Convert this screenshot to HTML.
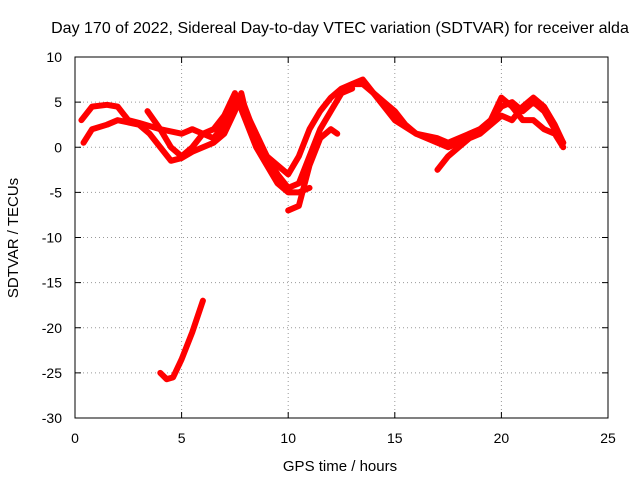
<!DOCTYPE html>
<html><head><meta charset="utf-8"><style>
body{margin:0;background:#fff;}
svg{display:block;font-family:"Liberation Sans",sans-serif;}
</style></head><body>
<svg id="chart" width="640" height="480">
<text x="340" y="33" font-size="16" text-anchor="middle">Day 170 of 2022, Sidereal Day-to-day VTEC variation (SDTVAR) for receiver alda</text>
<text x="340" y="471" font-size="15" text-anchor="middle">GPS time / hours</text>
<text transform="translate(18,238) rotate(-90)" font-size="15" text-anchor="middle">SDTVAR / TECUs</text>
<g id="grid"></g><g id="ticks"></g><g id="series"></g>
<rect x="75" y="57" width="533" height="361" fill="none" stroke="#000"/>
</svg>
<script>
const xTicks=[0,5,10,15,20,25];
const yTicks=[10,5,0,-5,-10,-15,-20,-25,-30];
const track1=[[0.3,3],[0.8,4.5],[1.5,4.7],[2,4.5],[2.5,3],[3,2.7],[4,2],[5,1.5],[5.5,2],[6,1.5],[6.5,1],[7,2.5],[7.5,5],[7.8,5.5],[8.2,3],[9,-1],[9.5,-2],[10,-3],[10.5,-1],[11,2],[11.5,4],[12,5.5],[12.5,6.5],[13,7],[13.5,7.5],[14,6],[14.5,4.5],[15,3],[16,1.5],[17,1],[17.5,0.5],[18,1],[18.5,1.5],[19,2],[19.5,3],[20,4.5],[20.5,5],[21,4],[21.5,5],[22,4],[22.5,2],[22.9,0.5]];
const track2=[[0.4,0.5],[0.8,2],[1.5,2.5],[2,3],[3,2.5],[3.5,1.5],[4,0],[4.5,-1.5],[5,-1.2],[5.5,-0.5],[6,0],[6.5,0.5],[7,1.5],[7.5,4],[7.8,6],[8,4],[8.5,1],[9,-1],[9.5,-3],[10,-4.5],[10.5,-4],[11,-1],[11.5,2],[12,4],[12.5,6],[13,6.5]];
const track3=[[3.4,4],[4,2],[4.5,0],[5,-1],[5.5,0],[6,1.5],[6.5,2],[7,3.5],[7.5,6],[8,3],[8.5,0],[9,-2],[9.5,-4],[10,-5],[10.5,-5],[11,-4.5]];
const track4=[[10,-7],[10.5,-6.5],[11,-2],[11.5,1],[12,2],[12.3,1.5]];
const track5=[[17,-2.5],[17.5,-1],[18,0],[18.5,1],[19,1.5],[19.5,2.5],[20,3.5],[20.5,3],[21,4.5],[21.5,5.5],[22,4.5],[22.5,2.5],[22.9,0.5]];
const track6=[[13,7],[13.5,7],[14,6],[14.5,5],[15,4],[15.5,2.5],[16,1.5],[16.5,1],[17,0.5],[17.5,0],[18,0.5],[18.5,1.5],[19,2],[19.5,3],[20,5.5],[20.5,4.5],[21,3],[21.5,3],[22,2],[22.5,1.5],[22.9,0]];
const track7=[[4,-25],[4.3,-25.7],[4.6,-25.5],[5,-23.5],[5.5,-20.5],[6,-17]];
const tracks=[track1,track2,track3,track4,track5,track6,track7];
const X=v=>75+v*(533/25), Y=v=>57+(10-v)*(361/40);
const NS="http://www.w3.org/2000/svg";
const grid=document.getElementById('grid'),ticks=document.getElementById('ticks'),ser=document.getElementById('series');
function mk(tag,attrs,parent){const e=document.createElementNS(NS,tag);for(const k in attrs)e.setAttribute(k,attrs[k]);parent.appendChild(e);return e;}
xTicks.forEach(t=>{
 const g=mk('line',{x1:X(t),x2:X(t),y1:57,y2:418,stroke:'#999','stroke-dasharray':'1,3'},grid);
 
 
 mk('line',{x1:X(t),x2:X(t),y1:418,y2:412,stroke:'#000'},ticks);
 mk('line',{x1:X(t),x2:X(t),y1:57,y2:63,stroke:'#000'},ticks);
 const l=mk('text',{x:X(t),y:443,'font-size':14,'text-anchor':'middle'},ticks);l.textContent=t;
 
 
});
yTicks.forEach(t=>{
 const g=mk('line',{x1:75,x2:608,y1:Y(t),y2:Y(t),stroke:'#999','stroke-dasharray':'1,3'},grid);
 
 
 mk('line',{x1:75,x2:81,y1:Y(t),y2:Y(t),stroke:'#000'},ticks);
 mk('line',{x1:608,x2:602,y1:Y(t),y2:Y(t),stroke:'#000'},ticks);
 const l=mk('text',{x:62,y:Y(t)+5,'font-size':14,'text-anchor':'end'},ticks);l.textContent=t;
 
 
});
tracks.forEach((tr,i)=>{
 const p=mk('polyline',{points:tr.map(d=>X(d[0])+','+Y(d[1])).join(' '),fill:'none',stroke:'#f00','stroke-width':6,'stroke-linejoin':'round','stroke-linecap':'round'},ser);
 
 
});
</script>
</body></html>
